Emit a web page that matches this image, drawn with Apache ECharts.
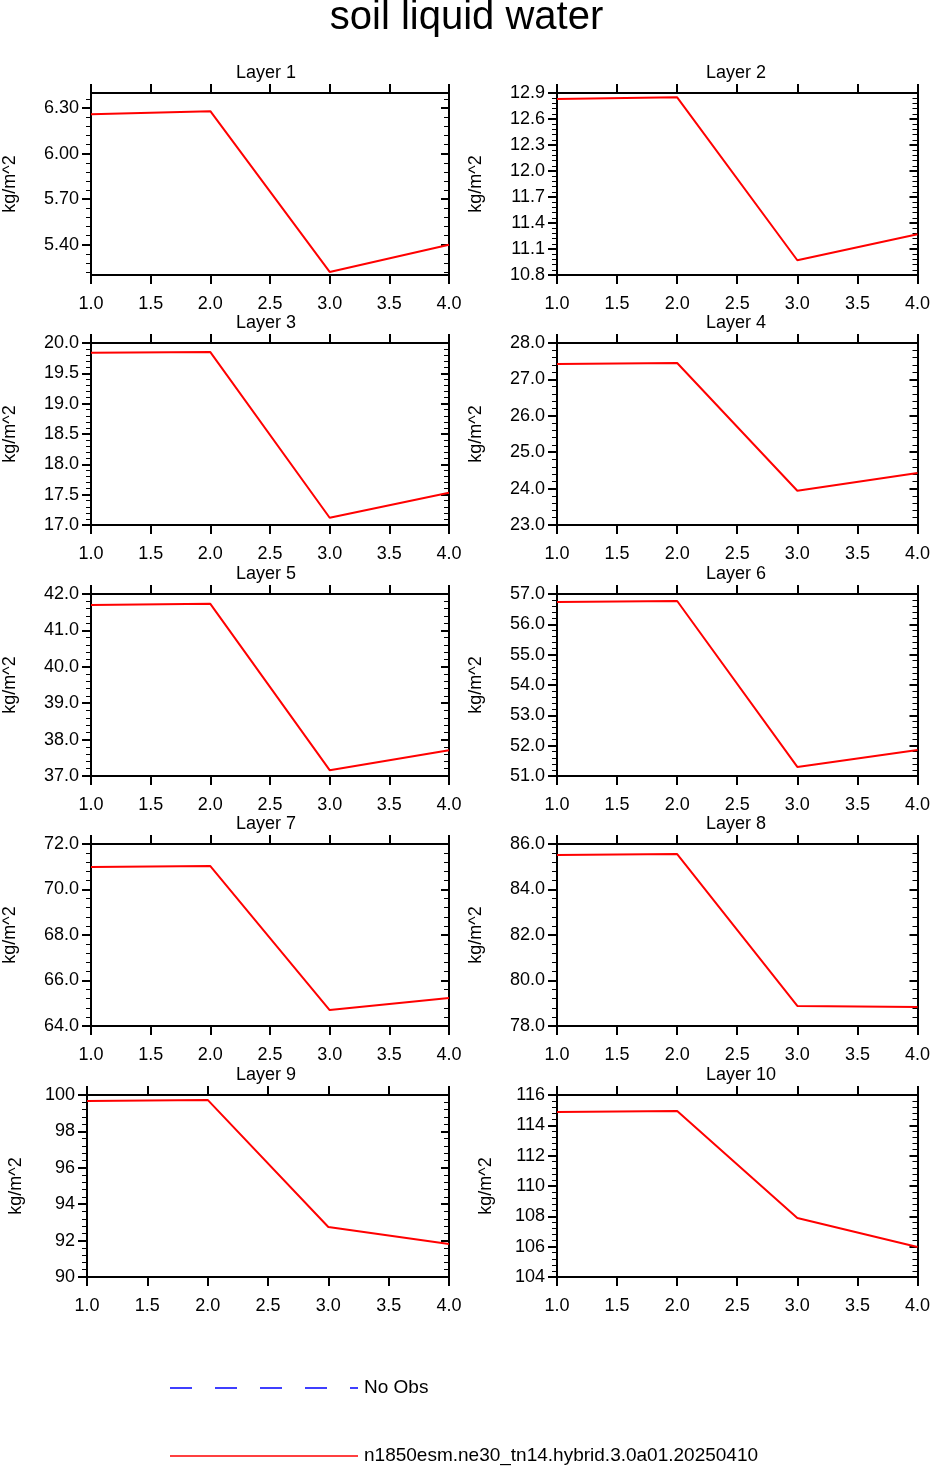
<!DOCTYPE html>
<html><head><meta charset="utf-8">
<script src="https://cdn.jsdelivr.net/npm/echarts@6/dist/echarts.min.js"></script>
<style>html,body{margin:0;padding:0;background:#fff}#c{width:933px;height:1467px}</style>
</head><body><div id="c"></div>
<script>
const xValues = [1, 2, 3, 4];
const layerNames = ["Layer 1","Layer 2","Layer 3","Layer 4","Layer 5","Layer 6","Layer 7","Layer 8","Layer 9","Layer 10"];
const layer1 = [6.26, 6.28, 5.22, 5.40];
const layer2 = [12.83, 12.85, 10.97, 11.27];
const layer3 = [19.84, 19.85, 17.12, 17.53];
const layer4 = [27.42, 27.45, 23.94, 24.43];
const layer5 = [41.70, 41.73, 37.16, 37.71];
const layer6 = [56.74, 56.77, 51.30, 51.86];
const layer7 = [70.99, 71.03, 64.70, 65.23];
const layer8 = [85.52, 85.56, 78.88, 78.84];
const layer9 = [99.67, 99.73, 92.75, 91.81];
const layer10 = [114.88, 114.94, 107.89, 105.98];
const layers = [layer1,layer2,layer3,layer4,layer5,layer6,layer7,layer8,layer9,layer10];
// y axis: [min, max, first major tick, major step, decimals]
const yAxes = [
  [5.2, 6.4, 5.4, 0.3, 2],
  [10.8, 12.9, 10.8, 0.3, 1],
  [17, 20, 17, 0.5, 1],
  [23, 28, 23, 1, 1],
  [37, 42, 37, 1, 1],
  [51, 57, 51, 1, 1],
  [64, 72, 64, 2, 1],
  [78, 86, 78, 2, 1],
  [90, 100, 90, 2, 0],
  [104, 116, 104, 2, 0]
];
const FONT = "Liberation Sans";
const lefts = [87, 557], tops = [93, 343, 594, 844, 1095], W = 362, H = 182;
const grids = [], xA = [], yA = [], series = [], graphics = [];
function vals(a, b, s) { const r = []; const n = Math.round((b - a) / s); for (let i = 0; i <= n; i++) r.push(+(a + i * s).toFixed(6)); return r; }
const line = {lineStyle: {color: '#000', width: 2}};
layers.forEach((d, i) => {
  const col = i % 2, row = Math.floor(i / 2);
  const [mn, mx, f, st, dec] = yAxes[i];
  grids.push({left: lefts[col], top: tops[row], width: W, height: H});
  const major = vals(f, mx, st).filter(v => v <= mx + 1e-9);
  let mstart = f; while (mstart - st / 5 >= mn - 1e-9) mstart -= st / 5;
  const minor = vals(mstart, mx, st / 5).filter(v => v <= mx + 1e-9);
  const base = xA.length;
  xA.push({gridIndex: i, type: 'value', min: 1, max: 4, interval: 0.5, position: 'bottom',
    axisLine: {show: true, onZero: false, ...line}, axisTick: {show: true, inside: false, length: 9, lineStyle: {color: '#000', width: 2}},
    axisLabel: {color: '#000', fontSize: 18, fontFamily: FONT, margin: 20, formatter: v => v.toFixed(1)}, splitLine: {show: false}});
  xA.push({gridIndex: i, type: 'value', min: 1, max: 4, interval: 0.5, position: 'top',
    axisLine: {show: true, onZero: false, ...line}, axisTick: {show: true, inside: false, length: 9, lineStyle: {color: '#000', width: 2}},
    axisLabel: {show: false}, splitLine: {show: false}});
  const yb = yA.length;
  const ynameGap = dec === 0 ? 62 : 72;
  yA.push({gridIndex: i, type: 'value', min: mn, max: mx, position: 'left',
    name: 'kg/m^2', nameLocation: 'middle', nameGap: ynameGap, nameRotate: 90,
    nameTextStyle: {color: '#000', fontSize: 18, fontFamily: FONT},
    axisLine: {show: true, onZero: false, ...line},
    axisTick: {show: true, length: 9, customValues: major, lineStyle: {color: '#000', width: 2}},
    axisLabel: {color: '#000', fontSize: 18, fontFamily: FONT, margin: 12, customValues: major, formatter: v => v.toFixed(dec)},
    splitLine: {show: false}});
  yA.push({gridIndex: i, type: 'value', min: mn, max: mx, position: 'left',
    axisLine: {show: false}, axisTick: {show: true, length: 5, customValues: minor, lineStyle: {color: '#000', width: 1}},
    axisLabel: {show: false}, splitLine: {show: false}});
  yA.push({gridIndex: i, type: 'value', min: mn, max: mx, position: 'right',
    axisLine: {show: true, onZero: false, ...line},
    axisTick: {show: true, inside: true, length: 8, customValues: major, lineStyle: {color: '#000', width: 2}},
    axisLabel: {show: false}, splitLine: {show: false}});
  yA.push({gridIndex: i, type: 'value', min: mn, max: mx, position: 'right',
    axisLine: {show: false}, axisTick: {show: true, inside: true, length: 5, customValues: minor, lineStyle: {color: '#000', width: 1}},
    axisLabel: {show: false}, splitLine: {show: false}});
  series.push({type: 'line', xAxisIndex: base, yAxisIndex: yb, data: xValues.map((x, k) => [x, d[k]]),
    showSymbol: false, lineStyle: {color: '#ff0000', width: 2}, silent: true, animation: false});
  graphics.push({type: 'text', left: lefts[col] + W / 2 - 32, top: tops[row] - 29,
    style: {text: layerNames[i], fill: '#000', font: '18px "' + FONT + '"', textAlign: 'left'}});
});
graphics.push({type: 'text', left: 'center', top: -2, style: {text: 'soil liquid water', fill: '#000', font: '40px "' + FONT + '"'}});
graphics.push({type: 'line', shape: {x1: 170, y1: 1388, x2: 358, y2: 1388}, style: {stroke: '#0000ff', lineWidth: 1.5, lineDash: [22, 23]}});
graphics.push({type: 'text', left: 364, top: 1378, style: {text: 'No Obs', fill: '#000', font: '19px "' + FONT + '"'}});
graphics.push({type: 'line', shape: {x1: 170, y1: 1456, x2: 358, y2: 1456}, style: {stroke: '#ff0000', lineWidth: 1.5}});
graphics.push({type: 'text', left: 364, top: 1446, style: {text: 'n1850esm.ne30_tn14.hybrid.3.0a01.20250410', fill: '#000', font: '19px "' + FONT + '"'}});
const chart = echarts.init(document.getElementById('c'));
chart.setOption({animation: false, grid: grids, xAxis: xA, yAxis: yA, series: series, graphic: graphics});
</script></body></html>
